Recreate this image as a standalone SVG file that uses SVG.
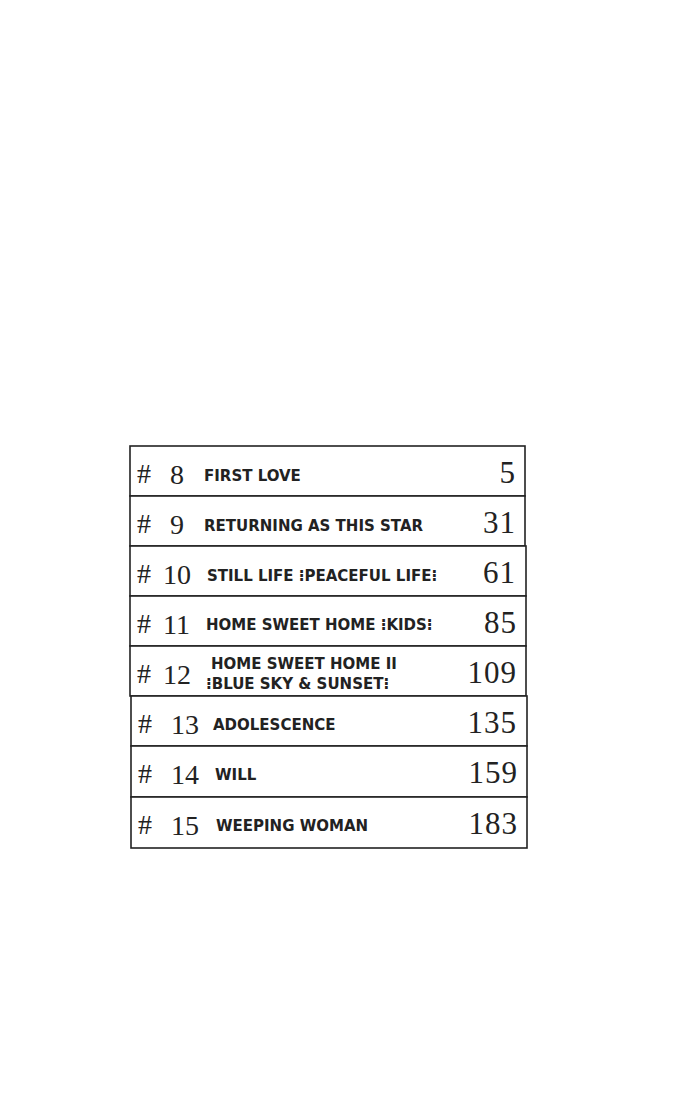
<svg xmlns="http://www.w3.org/2000/svg" width="700" height="1100" viewBox="0 0 700 1100">
<style>
.b{fill:#fff;stroke:#222;stroke-width:1.6}
.n{font-family:"Liberation Serif",serif;font-size:28px;fill:#222}
.t{font-family:"DejaVu Sans",sans-serif;font-size:15px;font-weight:bold;fill:#222}
.p{font-family:"Liberation Serif",serif;font-size:31px;fill:#222;text-anchor:end;letter-spacing:1px}
</style>
<rect width="700" height="1100" fill="#fff"/>
<g id="r8"><rect class="b" x="130" y="446" width="395" height="50"/><text class="n" x="137" y="483">#</text><text class="n" x="170" y="484">8</text><text class="t" x="204" y="481">FIRST LOVE</text><text class="p" x="516" y="483">5</text></g>
<g id="r9"><rect class="b" x="130" y="496" width="395" height="50"/><text class="n" x="137" y="533">#</text><text class="n" x="170" y="534">9</text><text class="t" x="204" y="531">RETURNING AS THIS STAR</text><text class="p" x="516" y="533">31</text></g>
<g id="r10"><rect class="b" x="130" y="546" width="396" height="50"/><text class="n" x="137" y="583">#</text><text class="n" x="163" y="584">10</text><text class="t" x="207" y="581">STILL LIFE ⁝PEACEFUL LIFE⁝</text><text class="p" x="516" y="583">61</text></g>
<g id="r11"><rect class="b" x="130" y="596" width="396" height="50"/><text class="n" x="137" y="633">#</text><text class="n" x="163" y="634">11</text><text class="t" x="206" y="630">HOME SWEET HOME ⁝KIDS⁝</text><text class="p" x="517" y="633">85</text></g>
<g id="r12"><rect class="b" x="130" y="646" width="396" height="50"/><text class="n" x="137" y="683">#</text><text class="n" x="163" y="684">12</text><text class="t" x="211" y="669">HOME SWEET HOME II</text><text class="t" x="206" y="689">⁝BLUE SKY &amp; SUNSET⁝</text><text class="p" x="517" y="683">109</text></g>
<g id="r13"><rect class="b" x="131" y="696" width="396" height="50"/><text class="n" x="138" y="733">#</text><text class="n" x="171" y="734">13</text><text class="t" x="213" y="730">ADOLESCENCE</text><text class="p" x="517" y="733">135</text></g>
<g id="r14"><rect class="b" x="131" y="746" width="396" height="51"/><text class="n" x="138" y="783">#</text><text class="n" x="171" y="784">14</text><text class="t" x="215" y="780">WILL</text><text class="p" x="518" y="783">159</text></g>
<g id="r15"><rect class="b" x="131" y="797" width="396" height="51"/><text class="n" x="138" y="834">#</text><text class="n" x="171" y="835">15</text><text class="t" x="216" y="831">WEEPING WOMAN</text><text class="p" x="518" y="834">183</text></g>
<g id="connectors"/>
</svg>
